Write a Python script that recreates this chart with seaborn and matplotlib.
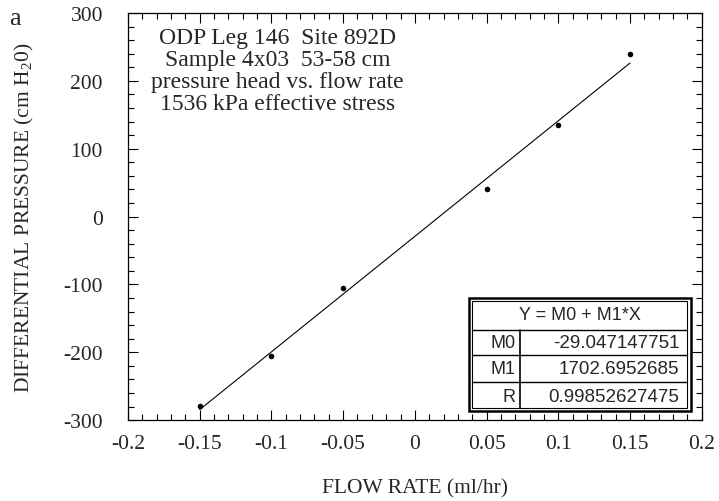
import matplotlib
matplotlib.use("Agg")
import matplotlib.pyplot as plt
from matplotlib.patches import Rectangle
from matplotlib.ticker import MultipleLocator
import numpy as np
import pandas as pd
import seaborn as sns

# measured pressure head vs. flow rate
flow_rate = [-0.15, -0.10, -0.05, 0.05, 0.10, 0.15]
pressure = [-279, -205, -105, 40, 135, 240]

# linear fit results  Y = M0 + M1*X
fit_M0 = -29.047147751
fit_M1 = 1702.6952685
fit_R = 0.99852627475
fit_labels = ["M0", "M1", "R"]
fit_values = ["-29.047147751", "1702.6952685", "0.99852627475"]

title_lines = [
    "ODP Leg 146  Site 892D",
    "Sample 4x03  53-58 cm",
    "pressure head vs. flow rate",
    "1536 kPa effective stress",
]

x_ticks = [-0.2, -0.15, -0.1, -0.05, 0, 0.05, 0.1, 0.15, 0.2]
x_ticklabels = ["-0.2", "-0.15", "-0.1", "-0.05", "0", "0.05", "0.1", "0.15", "0.2"]
y_ticks = [-300, -200, -100, 0, 100, 200, 300]
y_ticklabels = ["-300", "-200", "-100", "0", "100", "200", "300"]

sns.set_style("ticks")
plt.rcParams["font.family"] = ["Liberation Serif", "DejaVu Serif"]
plt.rcParams["mathtext.fontset"] = "custom"
plt.rcParams["mathtext.rm"] = "Liberation Serif"
plt.rcParams["axes.unicode_minus"] = False

fig = plt.figure(figsize=(7.19, 5.02), dpi=100)
ax = fig.add_axes([0.178, 0.161, 0.798, 0.811])

points = pd.DataFrame({"flow": flow_rate, "pressure": pressure})
fit_x = np.array([flow_rate[0], flow_rate[-1]])
fit_line = pd.DataFrame({"flow": fit_x, "pressure": fit_M0 + fit_M1 * fit_x})

sns.lineplot(data=fit_line, x="flow", y="pressure", ax=ax, color="black",
             linewidth=0.8, zorder=2)
sns.scatterplot(data=points, x="flow", y="pressure", ax=ax, color="black",
                s=16, edgecolor="black", linewidth=0, zorder=3)

ax.set_xlim(-0.2, 0.2)
ax.set_ylim(-300, 300)
ax.set_xticks(x_ticks)
ax.set_xticklabels(x_ticklabels)
ax.set_yticks(y_ticks)
ax.set_yticklabels(y_ticklabels)
ax.xaxis.set_minor_locator(MultipleLocator(0.01))
ax.yaxis.set_minor_locator(MultipleLocator(20))
ax.tick_params(which="both", direction="in", top=True, right=True,
               color="black", width=0.8)
ax.tick_params(which="major", length=7, labelsize=15.5)
ax.tick_params(axis="x", which="major", pad=10)
ax.tick_params(axis="y", which="major", pad=18)
ax.tick_params(which="minor", length=4)
for s in ax.spines.values():
    s.set_linewidth(0.9)
    s.set_color("black")

ax.set_xlabel("FLOW RATE (ml/hr)", fontsize=15.5, labelpad=18)
ax.set_ylabel(r"DIFFERENTIAL PRESSURE (cm H$_2$0)", fontsize=15.5, labelpad=20)

ax.text(0.261, 0.965, "\n".join(title_lines), transform=ax.transAxes,
        ha="center", va="top", fontsize=17, linespacing=1.05)

fig.text(0.012, 0.985, "a", fontsize=19, ha="left", va="top")

# fit coefficient table
tx0, tx1, tsplit = 0.594, 0.981, 0.683
ty_top, ty_head, ty_r1, ty_r2, ty_bot = 0.300, 0.221, 0.160, 0.093, 0.022
tr = ax.transAxes
ax.add_patch(Rectangle((tx0, ty_bot), tx1 - tx0, ty_top - ty_bot, transform=tr,
                       facecolor="white", edgecolor="black", linewidth=1.8,
                       zorder=5))
dx, dy = 0.006, 0.008
ax.add_patch(Rectangle((tx0 + dx, ty_bot + dy), tx1 - tx0 - 2 * dx,
                       ty_top - ty_bot - 2 * dy, transform=tr,
                       facecolor="none", edgecolor="black", linewidth=0.8,
                       zorder=6))
for yy in (ty_head, ty_r1, ty_r2):
    ax.plot([tx0 + dx, tx1 - dx], [yy, yy], transform=tr, color="black",
            linewidth=1.0, zorder=6)
ax.plot([tsplit, tsplit], [ty_bot + dy, ty_head], transform=tr, color="black",
        linewidth=1.2, zorder=6)

sans = ["Liberation Sans", "DejaVu Sans"]
ax.text((tx0 + tx1) / 2, (ty_top + ty_head) / 2, "Y = M0 + M1*X", transform=tr,
        ha="center", va="center", fontsize=13, family=sans, zorder=7)
row_mid = [(ty_head + ty_r1) / 2, (ty_r1 + ty_r2) / 2, (ty_r2 + ty_bot) / 2]
for lab, val, ym in zip(fit_labels, fit_values, row_mid):
    ax.text(tsplit - 0.008, ym, lab, transform=tr, ha="right", va="center",
            fontsize=13, family=sans, zorder=7)
    ax.text(tx1 - 0.02, ym, val, transform=tr, ha="right", va="center",
            fontsize=13.5, family=sans, zorder=7)

fig.savefig("out.png", dpi=100, facecolor="white")
